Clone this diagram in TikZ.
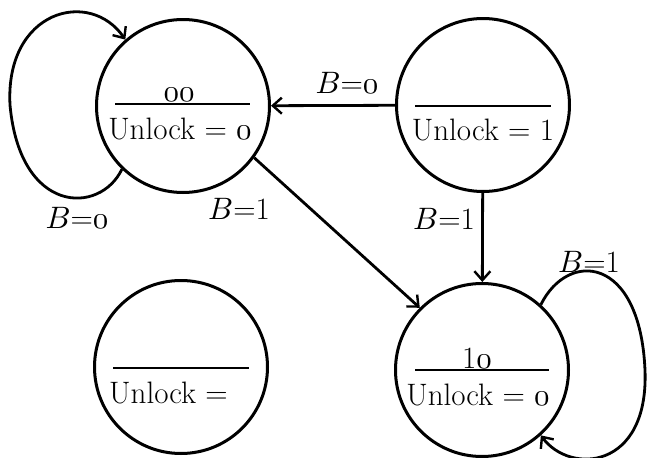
\documentclass[tikz,border=0pt]{standalone}
\usetikzlibrary{arrows.meta,calc}
\DeclareFontShape{OML}{cmm}{m}{it}{<->cmmi10}{}
\newcommand\ozero{\ensuremath{\mathnormal{0}}}
\begin{document}
\begin{tikzpicture}[x=1pt,y=-1pt,
  font=\fontsize{31}{34}\selectfont,
  state/.style={circle,draw,line width=3pt,minimum size=173pt,inner sep=0pt},
  divider/.style={line width=2.4pt},
  edge/.style={line width=2.8pt,-{Straight Barb[length=9pt,width=16pt,line width=2.4pt]}},
  txt/.style={inner sep=0pt,anchor=base},
  lbl/.style={inner sep=0pt}]
\useasboundingbox (0,0) rectangle (649,458);

% states
\node[state] (s00) at (183,106) {};
\node[state] (s01) at (483,105) {};
\node[state] (sx)  at (181,367) {};
\node[state] (s10) at (482,370) {};

% dividers
\draw[divider] ($(s00)+(-68,-2)$) -- ($(s00)+(67,-2)$);
\draw[divider] ($(s01)+(-68,1)$) -- ($(s01)+(68,1)$);
\draw[divider] ($(sx)+(-68,1)$) -- ($(sx)+(68,1)$);
\draw[divider] ($(s10)+(-67,0)$) -- ($(s10)+(67,0)$);

% state texts
\node[txt] (t00a) at (179,101) {\ozero\ozero};
\node[txt] (t00b) at (180,139) {Unlock = \ozero};
\node[txt] (t01b) at (483,140) {Unlock = 1};
\node[txt,anchor=base west] (txb) at (109,403) {Unlock =};
\node[txt] (t10a) at (477,368) {1\ozero};
\node[txt] (t10b) at (478,405) {Unlock = \ozero};

% transitions
\draw[edge] (s01) -- (s00);
\draw[edge] (s01) -- (s10);
\draw[edge] (s00.-36) -- (s10.135);
\draw[edge] (s00.226) .. controls (100,215) and (20,215) .. (10,105)
            .. controls (5,10) and (90,-12) .. (s00.131);
\draw[edge] (s10.48) .. controls (568,250) and (640,255) .. (645,370)
            .. controls (649,470) and (570,475) .. (s10.-48);

% labels
\node[lbl] (l1) at (347,83) {$B$=\ozero};
\node[lbl] (l2) at (444,219) {$B$=1};
\node[lbl] (l3) at (77,218) {$B$=\ozero};
\node[lbl] (l4) at (239,209) {$B$=1};
\node[lbl] (l5) at (589,262) {$B$=1};
\end{tikzpicture}
\end{document}
